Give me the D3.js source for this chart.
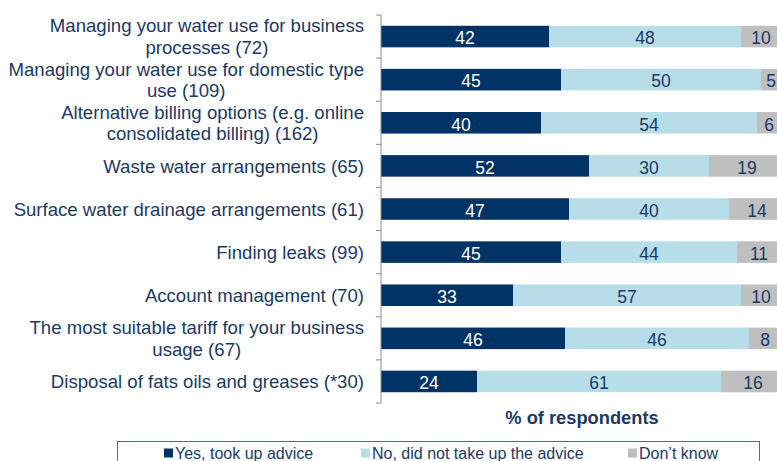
<!DOCTYPE html>
<html>
<head>
<meta charset="utf-8">
<script src="https://cdn.jsdelivr.net/npm/d3@7/dist/d3.min.js"></script>
<style>
  html, body { margin: 0; padding: 0; background: #fff; overflow: hidden; }
  svg { display: block; font-family: "Liberation Sans", Arial, sans-serif; }
</style>
</head>
<body>
<svg id="chart" width="777" height="461"></svg>
<script>
// Category labels ("\n" marks a line break in the axis label)
const categories = [
  "Managing your water use for business\nprocesses (72)",
  "Managing your water use for domestic type\nuse (109)",
  "Alternative billing options (e.g. online\nconsolidated billing) (162)",
  "Waste water arrangements (65)",
  "Surface water drainage arrangements (61)",
  "Finding leaks (99)",
  "Account management (70)",
  "The most suitable tariff for your business\nusage (67)",
  "Disposal of fats oils and greases (*30)"
];
const yesValues = [42, 45, 40, 52, 47, 45, 33, 46, 24];
const noValues = [48, 50, 54, 30, 40, 44, 57, 46, 61];
const dontKnowValues = [10, 5, 6, 19, 14, 11, 10, 8, 16];
const seriesNames = ["Yes, took up advice", "No, did not take up the advice", "Don\u2019t know"];
const axisTitle = "% of respondents";

const colors = ["#023366", "#b7dde8", "#bfbfbf"];
const labelColors = ["#ffffff", "#1a3a66", "#1a3a66"];
const textColor = "#1a3a66";

const svg = d3.select("#chart");

const rows = categories.map((c, i) => ({
  category: c,
  values: [yesValues[i], noValues[i], dontKnowValues[i]]
}));

const plotTop = 15, plotBottom = 403;
const x = d3.scaleLinear().domain([0, 100]).range([381, 781]);
const y = d3.scaleBand().domain(categories).range([plotTop, plotBottom]).paddingInner(0.5).paddingOuter(0.25);

// Stacked segments
rows.forEach(row => {
  let start = 0;
  row.values.forEach((v, k) => {
    const x0 = x(start), x1 = x(start + v);
    svg.append("rect")
      .attr("x", x0)
      .attr("y", y(row.category))
      .attr("width", x1 - x0)
      .attr("height", y.bandwidth())
      .attr("fill", colors[k]);
    svg.append("text")
      .attr("x", (x0 + x1) / 2)
      .attr("y", y(row.category) + y.bandwidth() / 2 + 1.5)
      .attr("dy", "0.36em")
      .attr("text-anchor", "middle")
      .attr("font-size", 17.5)
      .attr("fill", labelColors[k])
      .text(v);
    start += v;
  });
});

// Category axis: tick marks on band boundaries
const band = y.step();
const axisG = svg.append("g");
axisG.append("line")
  .attr("x1", 381).attr("x2", 381)
  .attr("y1", plotTop).attr("y2", plotBottom)
  .attr("stroke", "#8c8c8c").attr("stroke-width", 1);
d3.range(categories.length + 1).forEach(i => {
  axisG.append("line")
    .attr("x1", 376).attr("x2", 381)
    .attr("y1", plotTop + band * i).attr("y2", plotTop + band * i)
    .attr("stroke", "#8c8c8c").attr("stroke-width", 1);
});

// Category labels
const lineH = 21.6;
categories.forEach(c => {
  const lines = c.split("\n");
  const cy = y(c) + y.bandwidth() / 2;
  const t = svg.append("text")
    .attr("text-anchor", "middle")
    .attr("font-size", 18.6)
    .attr("fill", textColor);
  lines.forEach((ln, j) => {
    t.append("tspan")
      .attr("x", 0)
      .attr("y", cy + (j - (lines.length - 1) / 2) * lineH)
      .attr("dy", "0.36em")
      .text(ln);
  });
  // right-align the block while centring lines relative to each other
  const bb = t.node().getBBox();
  t.attr("transform", `translate(${364 - bb.width / 2},0)`);
});

// Axis title
svg.append("text")
  .attr("x", 582)
  .attr("y", 424)
  .attr("text-anchor", "middle")
  .attr("font-size", 18.3)
  .attr("font-weight", "bold")
  .attr("fill", textColor)
  .text(axisTitle);

// Legend
svg.append("rect")
  .attr("x", 117.5).attr("y", 441.5)
  .attr("width", 642).attr("height", 40)
  .attr("fill", "#fff")
  .attr("stroke", "#4f6d8f").attr("stroke-width", 1);
const legendX = [164, 361, 628];
seriesNames.forEach((name, k) => {
  svg.append("rect")
    .attr("x", legendX[k]).attr("y", 448.5)
    .attr("width", 9).attr("height", 9)
    .attr("fill", colors[k]);
  svg.append("text")
    .attr("x", legendX[k] + 11)
    .attr("y", 459)
    .attr("font-size", 16)
    .attr("fill", textColor)
    .text(name);
});
</script>
</body>
</html>
